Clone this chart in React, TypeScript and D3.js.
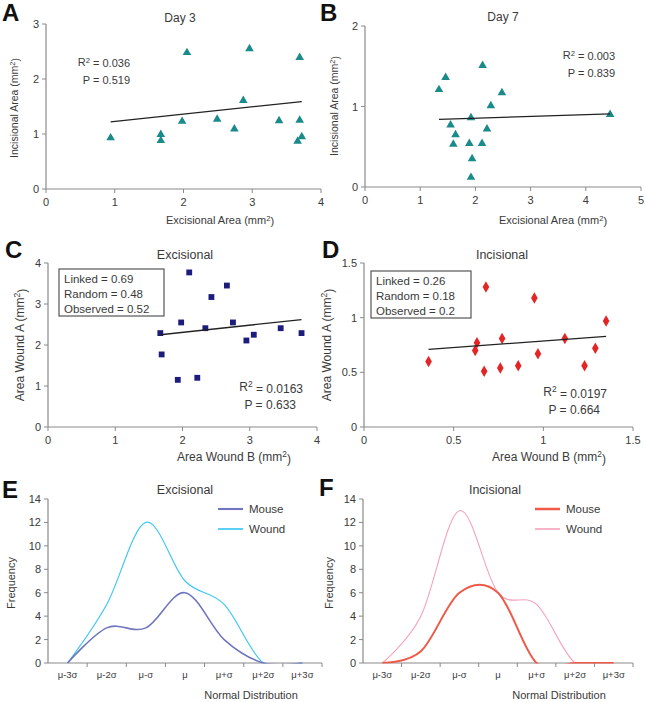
import React from 'react';
import * as d3 from 'd3';

// panel A: day 3
const day3X = [0.94, 1.67, 1.67, 2.05, 1.98, 2.49, 2.74, 2.87, 2.96, 3.39, 3.69, 3.69, 3.72, 3.66];
const day3Y = [0.93, 0.99, 0.88, 2.48, 1.23, 1.27, 1.09, 1.61, 2.55, 1.24, 2.39, 1.25, 0.95, 0.87];
const day3Trend = { slope: 0.133, intercept: 1.095 };

// panel B: day 7
const day7X = [1.34, 1.46, 2.13, 2.48, 2.28, 1.92, 1.55, 1.64, 1.6, 1.89, 2.12, 2.21, 1.94, 1.92, 4.44];
const day7Y = [1.21, 1.36, 1.51, 1.17, 1.01, 0.86, 0.77, 0.65, 0.53, 0.54, 0.54, 0.72, 0.35, 0.12, 0.9];
const day7Trend = { slope: 0.022, intercept: 0.811 };

// panel C: excisional wound pairs
const excB = [1.67, 1.69, 1.98, 2.1, 1.93, 2.22, 2.34, 2.43, 2.66, 2.75, 2.95, 3.06, 3.46, 3.77];
const excA = [2.29, 1.77, 2.55, 3.77, 1.15, 1.2, 2.41, 3.17, 3.45, 2.55, 2.11, 2.25, 2.41, 2.29];
const excTrend = { slope: 0.176, intercept: 1.956 };

// panel D: incisional wound pairs
const incB = [0.36, 0.62, 0.63, 0.68, 0.67, 0.77, 0.76, 0.86, 0.95, 0.97, 1.12, 1.23, 1.29, 1.35];
const incA = [0.6, 0.7, 0.77, 1.28, 0.51, 0.81, 0.54, 0.56, 1.18, 0.67, 0.81, 0.56, 0.72, 0.97];
const incTrend = { slope: 0.121, intercept: 0.666 };

// panels E/F: frequency distributions
const sigmaLabels = ['μ-3σ', 'μ-2σ', 'μ-σ', 'μ', 'μ+σ', 'μ+2σ', 'μ+3σ'];
const excMouse = [0, 3, 3, 6, 2, 0, 0];
const excWound = [0, 5, 12, 7, 5, 0, 0];
const incMouse = [0, 1, 6, 6, 0, 0, 0];
const incWound = [0, 4, 13, 6, 5, 0, 0];

const FONT = 'Liberation Sans, Arial, sans-serif';
const TXT = '#3a3a3a';
const AXIS = '#8a8a8a';

type Box = { x0: number; x1: number; y0: number; y1: number };

function YAxis({ y, x0, ticks }: { y: d3.ScaleLinear<number, number>; x0: number; ticks: number[] }) {
  const r = y.range();
  return (
    <g>
      <line x1={x0} x2={x0} y1={r[0]} y2={r[1]} stroke={AXIS} strokeWidth={1.2} />
      {ticks.map((t) => (
        <g key={t}>
          <line x1={x0 - 4} x2={x0} y1={y(t)} y2={y(t)} stroke={AXIS} />
          <text x={x0 - 7} y={y(t) + 4} textAnchor="end" fontSize={11} fill={TXT}>{t}</text>
        </g>
      ))}
    </g>
  );
}

function XAxis({ x, y0, ticks }: { x: d3.ScaleLinear<number, number>; y0: number; ticks: number[] }) {
  const r = x.range();
  return (
    <g>
      <line x1={r[0]} x2={r[1]} y1={y0} y2={y0} stroke={AXIS} strokeWidth={1.2} />
      {ticks.map((t) => (
        <g key={t}>
          <line x1={x(t)} x2={x(t)} y1={y0} y2={y0 + 4} stroke={AXIS} />
          <text x={x(t)} y={y0 + 17} textAnchor="middle" fontSize={11} fill={TXT}>{t}</text>
        </g>
      ))}
    </g>
  );
}

function Scatter(props: {
  box: Box; xDomain: [number, number]; yDomain: [number, number];
  xTicks: number[]; yTicks: number[]; xs: number[]; ys: number[];
  trend: { slope: number; intercept: number };
  symbol: d3.SymbolType; size: number; color: string;
}) {
  const { box, xs, ys, trend } = props;
  const x = d3.scaleLinear().domain(props.xDomain).range([box.x0, box.x1]);
  const y = d3.scaleLinear().domain(props.yDomain).range([box.y0, box.y1]);
  const sym = d3.symbol().type(props.symbol).size(props.size)();
  const [lo, hi] = d3.extent(xs) as [number, number];
  const line = d3.line<number>().x((v) => x(v)).y((v) => y(trend.intercept + trend.slope * v));
  return (
    <g>
      <YAxis y={y} x0={box.x0} ticks={props.yTicks} />
      <XAxis x={x} y0={box.y0} ticks={props.xTicks} />
      {xs.map((v, i) => (
        <path key={i} d={sym || ''} transform={`translate(${x(v)},${y(ys[i])})`} fill={props.color} />
      ))}
      <path d={line([lo, hi]) || ''} stroke="#222" strokeWidth={1.3} fill="none" />
    </g>
  );
}

function Distribution(props: {
  id: string; box: Box; mouse: number[]; wound: number[];
  mouseColor: string; woundColor: string; mouseWidth: number; woundWidth: number;
  legendX: number;
}) {
  const { box } = props;
  const band = d3.scaleBand().domain(sigmaLabels).range([box.x0, box.x1]);
  const cx = (c: string) => (band(c) as number) + band.bandwidth() / 2;
  const y = d3.scaleLinear().domain([0, 14]).range([box.y0, box.y1]);
  const line = d3.line<number>()
    .x((_, i) => cx(sigmaLabels[i]))
    .y((v) => y(v))
    .curve(d3.curveCatmullRom.alpha(0));
  const bounds = sigmaLabels.map((c) => band(c) as number).slice(1).concat([box.x1]);
  return (
    <g>
      <defs>
        <clipPath id={props.id}>
          <rect x={box.x0} y={box.y1 - 10} width={box.x1 - box.x0} height={box.y0 - box.y1 + 10.6} />
        </clipPath>
      </defs>
      <YAxis y={y} x0={box.x0} ticks={d3.range(0, 15, 2)} />
      <line x1={box.x0} x2={box.x1} y1={box.y0} y2={box.y0} stroke={AXIS} strokeWidth={1.2} />
      {bounds.map((b, i) => (
        <line key={i} x1={b} x2={b} y1={box.y0} y2={box.y0 + 4} stroke={AXIS} />
      ))}
      {sigmaLabels.map((c) => (
        <text key={c} x={cx(c)} y={box.y0 + 15} textAnchor="middle" fontSize={9.5} fill={TXT}>{c}</text>
      ))}
      <g clipPath={`url(#${props.id})`}>
        <path d={line(props.wound) || ''} stroke={props.woundColor} strokeWidth={props.woundWidth} fill="none" />
        <path d={line(props.mouse) || ''} stroke={props.mouseColor} strokeWidth={props.mouseWidth} fill="none" />
      </g>
      <line x1={props.legendX} x2={props.legendX + 25} y1={509} y2={509} stroke={props.mouseColor} strokeWidth={props.mouseWidth + 0.5} />
      <line x1={props.legendX} x2={props.legendX + 25} y1={529} y2={529} stroke={props.woundColor} strokeWidth={props.woundWidth + 0.5} />
      <text x={props.legendX + 31} y={513} fontSize={11.5} fill={TXT}>Mouse</text>
      <text x={props.legendX + 31} y={533} fontSize={11.5} fill={TXT}>Wound</text>
    </g>
  );
}

function Letter({ x, y, c }: { x: number; y: number; c: string }) {
  return <text x={x} y={y} fontSize={24} fontWeight="bold" fill="#111">{c}</text>;
}

function YLabel({ x, y, t, size }: { x: number; y: number; t: React.ReactNode; size: number }) {
  return <text transform={`translate(${x},${y}) rotate(-90)`} textAnchor="middle" fontSize={size} fill={TXT}>{t}</text>;
}

function StatBox({ x, y, w, lines }: { x: number; y: number; w: number; lines: string[] }) {
  return (
    <g>
      <rect x={x} y={y} width={w} height={47} fill="#fff" stroke="#555" strokeWidth={1.2} />
      {lines.map((l, i) => (
        <text key={i} x={x + 5} y={y + 14 + i * 15} fontSize={11.5} fill={TXT}>{l}</text>
      ))}
    </g>
  );
}

const mm2 = (s: string) => <>{s} (mm<tspan fontSize="0.7em" dy="-0.45em">2</tspan><tspan dy="0.45em">)</tspan></>;
const R2 = (v: string) => <>R<tspan fontSize="0.7em" dy="-0.45em">2</tspan><tspan dy="0.45em"> = {v}</tspan></>;

export default function App() {
  return (
    <svg width={646} height={702} style={{ position: 'absolute', left: 0, top: 0, background: '#fff' }} fontFamily={FONT}>
      {/* A */}
      <Letter x={2} y={21} c="A" />
      <text x={180} y={22} textAnchor="middle" fontSize={12} fill={TXT}>Day 3</text>
      <Scatter box={{ x0: 46, x1: 321, y0: 189, y1: 24 }} xDomain={[0, 4]} yDomain={[0, 3]}
        xTicks={[0, 1, 2, 3, 4]} yTicks={[0, 1, 2, 3]} xs={day3X} ys={day3Y} trend={day3Trend}
        symbol={d3.symbolTriangle} size={32} color="#1b8a8a" />
      <text x={130} y={66} textAnchor="end" fontSize={11} fill={TXT}>{R2('0.036')}</text>
      <text x={130} y={84} textAnchor="end" fontSize={11} fill={TXT}>P = 0.519</text>
      <text x={220} y={224} textAnchor="middle" fontSize={11} fill={TXT}>{mm2('Excisional Area')}</text>
      <YLabel x={18} y={108} size={10.5} t={mm2('Incisional Area')} />

      {/* B */}
      <Letter x={320} y={21} c="B" />
      <text x={503} y={21} textAnchor="middle" fontSize={12} fill={TXT}>Day 7</text>
      <Scatter box={{ x0: 365, x1: 641, y0: 187, y1: 26 }} xDomain={[0, 5]} yDomain={[0, 2]}
        xTicks={[0, 1, 2, 3, 4, 5]} yTicks={[0, 1, 2]} xs={day7X} ys={day7Y} trend={day7Trend}
        symbol={d3.symbolTriangle} size={32} color="#1b8a8a" />
      <text x={615} y={59} textAnchor="end" fontSize={11} fill={TXT}>{R2('0.003')}</text>
      <text x={615} y={77} textAnchor="end" fontSize={11} fill={TXT}>P = 0.839</text>
      <text x={553} y={224} textAnchor="middle" fontSize={11} fill={TXT}>{mm2('Excisional Area')}</text>
      <YLabel x={338} y={106} size={10.5} t={mm2('Incisional Area')} />

      {/* C */}
      <Letter x={5} y={258} c="C" />
      <text x={185} y={259} textAnchor="middle" fontSize={12.5} fill={TXT}>Excisional</text>
      <Scatter box={{ x0: 48, x1: 317, y0: 427, y1: 263 }} xDomain={[0, 4]} yDomain={[0, 4]}
        xTicks={[0, 1, 2, 3, 4]} yTicks={[0, 1, 2, 3, 4]} xs={excB} ys={excA} trend={excTrend}
        symbol={d3.symbolSquare} size={34} color="#1c1c7c" />
      <StatBox x={59} y={269} w={105} lines={['Linked = 0.69', 'Random = 0.48', 'Observed = 0.52']} />
      <text x={303} y={391} textAnchor="end" fontSize={12} fill={TXT}>{R2('0.0163')}</text>
      <text x={296} y={409} textAnchor="end" fontSize={12} fill={TXT}>P = 0.633</text>
      <text x={234} y={461} textAnchor="middle" fontSize={12} fill={TXT}>{mm2('Area Wound B')}</text>
      <YLabel x={24} y={345} size={12} t={mm2('Area Wound A')} />

      {/* D */}
      <Letter x={322} y={258} c="D" />
      <text x={502} y={259} textAnchor="middle" fontSize={12.5} fill={TXT}>Incisional</text>
      <Scatter box={{ x0: 364, x1: 633, y0: 427, y1: 263 }} xDomain={[0, 1.5]} yDomain={[0, 1.5]}
        xTicks={[0, 0.5, 1, 1.5]} yTicks={[0, 0.5, 1, 1.5]} xs={incB} ys={incA} trend={incTrend}
        symbol={d3.symbolDiamond} size={38} color="#e52525" />
      <StatBox x={371} y={271} w={100} lines={['Linked = 0.26', 'Random = 0.18', 'Observed = 0.2']} />
      <text x={607} y={396} textAnchor="end" fontSize={12} fill={TXT}>{R2('0.0197')}</text>
      <text x={600} y={414} textAnchor="end" fontSize={12} fill={TXT}>P = 0.664</text>
      <text x={549} y={461} textAnchor="middle" fontSize={12} fill={TXT}>{mm2('Area Wound B')}</text>
      <YLabel x={331} y={345} size={12} t={mm2('Area Wound A')} />

      {/* E */}
      <Letter x={2} y={498} c="E" />
      <text x={185} y={494} textAnchor="middle" fontSize={12.5} fill={TXT}>Excisional</text>
      <Distribution id="clipE" box={{ x0: 48, x1: 322, y0: 663, y1: 499 }} mouse={excMouse} wound={excWound}
        mouseColor="#6f76bd" woundColor="#3fc8f2" mouseWidth={1.6} woundWidth={1.2} legendX={218} />
      <text x={251} y={699} textAnchor="middle" fontSize={11} fill={TXT}>Normal Distribution</text>
      <YLabel x={15} y={583} size={11} t="Frequency" />

      {/* F */}
      <Letter x={319} y={496} c="F" />
      <text x={495} y={494} textAnchor="middle" fontSize={12.5} fill={TXT}>Incisional</text>
      <Distribution id="clipF" box={{ x0: 363, x1: 633, y0: 663, y1: 499 }} mouse={incMouse} wound={incWound}
        mouseColor="#ef5a48" woundColor="#f5a3ba" mouseWidth={2} woundWidth={1.1} legendX={535} />
      <text x={559} y={699} textAnchor="middle" fontSize={11} fill={TXT}>Normal Distribution</text>
      <YLabel x={333} y={583} size={11} t="Frequency" />
    </svg>
  );
}
